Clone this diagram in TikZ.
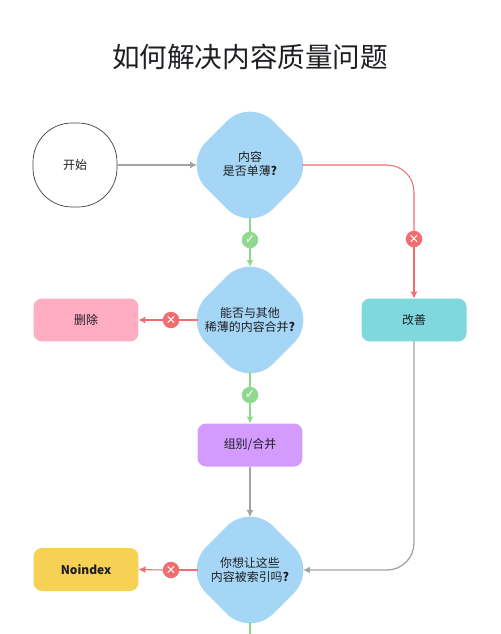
\documentclass[tikz,border=0pt]{standalone}
\usepackage{fontspec}
\setmainfont{Noto Sans CJK SC}
\newfontfamily\marksfont{DejaVu Sans}
\usepackage{tikz}
\usetikzlibrary{arrows.meta,shapes.geometric}
\definecolor{QuestionBlue}{RGB}{166,214,245}
\definecolor{DeletePink}{RGB}{255,173,195}
\definecolor{ImproveTeal}{RGB}{128,216,223}
\definecolor{MergePurple}{RGB}{212,155,255}
\definecolor{NoindexYellow}{RGB}{247,209,84}
\definecolor{YesGreen}{RGB}{143,217,143}
\definecolor{NoRed}{RGB}{242,109,112}
\definecolor{FlowGray}{RGB}{163,163,163}
\definecolor{InkBlack}{RGB}{30,30,35}
\tikzset{
  question/.style={diamond,fill=QuestionBlue,rounded corners=0.66cm,minimum size=2.68cm,inner sep=0pt,outer sep=0pt,align=center,font=\fontsize{6.8}{7.7}\selectfont,text=InkBlack},
  action/.style={rectangle,rounded corners=0.17cm,minimum width=2.1cm,minimum height=0.86cm,inner sep=0pt,outer sep=0pt,font=\fontsize{6.8}{8}\selectfont,text=InkBlack},
  startnode/.style={rectangle,draw=black!75,line width=0.4pt,rounded corners=0.78cm,minimum size=1.68cm,inner sep=0pt,outer sep=0pt,font=\fontsize{6.8}{8}\selectfont,text=InkBlack},
  okmark/.style={circle,fill=YesGreen,minimum size=0.33cm,inner sep=0pt,outer sep=0pt,text=white,font=\marksfont\fontsize{7}{7}\selectfont},
  nomark/.style={circle,fill=NoRed,minimum size=0.33cm,inner sep=0pt,outer sep=0pt,text=white,font=\marksfont\fontsize{7}{7}\selectfont},
  flow/.style={line width=0.75pt,FlowGray},
  yes/.style={line width=0.7pt,YesGreen},
  no/.style={line width=0.6pt,NoRed},
  outq/.style={shorten <=1.05cm},
  intoq/.style={shorten >=1.06cm}
}
\begin{document}
\begin{tikzpicture}[x=0.02cm,y=-0.02cm,>={Latex[length=0.14cm,width=0.14cm]}]
      \useasboundingbox (0,0) rectangle (500,634);
      \node[font=\fontsize{15.7}{18}\selectfont,text=InkBlack] (title) at (250,57) {如何解决内容质量问题};
      \node[startnode] (start) at (75,165) {开始};
      \node[question] (thin) at (250,165) {内容\\是否单薄\textbf{?}\\[-5.7pt]\mbox{}};
      \node[question] (combine) at (250,320) {能否与其他\\稀薄的内容合并\textbf{?}};
      \node[question] (index) at (250,570) {你想让这些\\内容被索引吗\textbf{?}};
      \node[action,fill=DeletePink] (delete) at (86,320) {删除};
      \node[action,fill=ImproveTeal] (improve) at (414,320) {改善};
      \node[action,fill=MergePurple] (merge) at (250,445) {组别/合并};
      \node[action,fill=NoindexYellow] (noindex) at (86,569.5) {\textbf{Noindex}};
      \node[okmark] (yesthin) at (250,240) {✓};
      \node[okmark] (yescombine) at (250,395) {✓};
      \node[nomark] (nothin) at (414,239) {✕};
      \node[nomark] (nocombine) at (171,320) {✕};
      \node[nomark] (noindexmark) at (171,570) {✕};
      \coordinate (indexout) at (250,634);
      \draw[->,flow,intoq] (start.east)--(thin.center);
      \draw[yes,outq] (thin.center)--(yesthin.north);
      \draw[->,yes,intoq] (yesthin.south)--(combine.center);
      \draw[no,outq,rounded corners=0.54cm] (thin.center)-|(nothin.north);
      \draw[->,no] (nothin.south)--(improve.north);
      \draw[no,outq] (combine.center)--(nocombine.east);
      \draw[->,no] (nocombine.west)--(delete.east);
      \draw[yes,outq] (combine.center)--(yescombine.north);
      \draw[->,yes] (yescombine.south)--(merge.north);
      \draw[->,flow,intoq] (merge.south)--(index.center);
      \draw[->,flow,rounded corners=0.54cm,intoq] (improve.south)|-(index.center);
      \draw[no,outq] (index.center)--(noindexmark.east);
      \draw[->,no] (noindexmark.west)--(noindex.east);
      \draw[yes,outq] (index.center)--(indexout);
    \end{tikzpicture}
\end{document}
